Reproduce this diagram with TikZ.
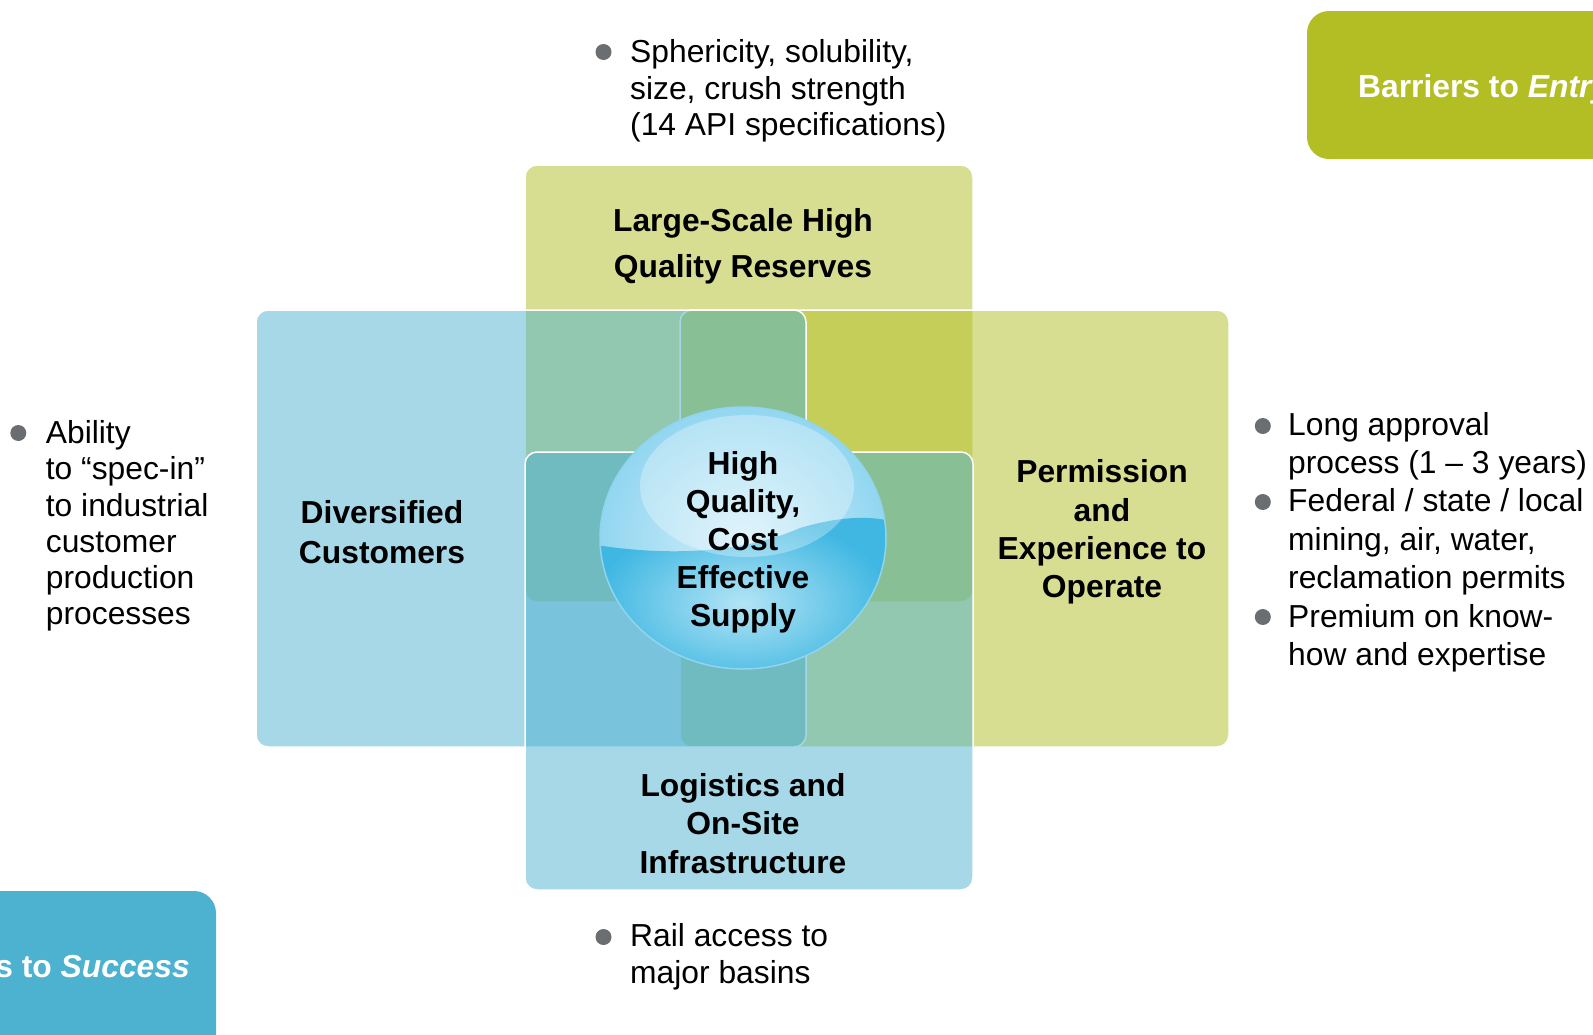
\documentclass[tikz,border=0pt]{standalone}
\usepackage{fontspec}
\setmainfont{Liberation Sans}
\usepackage{tikz}
\definecolor{barrgreen}{HTML}{B2BE23}
\definecolor{succblue}{HTML}{4DB1D0}
\definecolor{dotgrey}{HTML}{6B6E71}
\definecolor{balltop}{HTML}{D3EFFA}
\definecolor{balledge}{HTML}{8FD5F0}
\definecolor{waterlight}{HTML}{B3E4F5}
\definecolor{waterdeep}{HTML}{3FB7E2}
\tikzstyle{panel}=[draw=white, line width=1.5pt, rounded corners=12pt, fill opacity=0.5]
\tikzstyle{cornertab}=[rounded corners=22pt]
\tikzstyle{boxtitle}=[align=center, inner sep=0pt]
\tikzstyle{tabtext}=[text=white, inner sep=0pt, font=\bfseries\fontsize{31.8}{38}\selectfont]
\tikzstyle{bullettext}=[align=left, anchor=west, inner sep=0pt, font=\fontsize{31.8}{36.6}\selectfont]
\tikzstyle{bulletdot}=[circle, fill=dotgrey, inner sep=0pt, minimum size=16pt]

\begin{document}
\begin{tikzpicture}[x=1pt, y=-1pt]
                    \useasboundingbox (0,0) rectangle (1593,1034);
                    \clip (0,0) rectangle (1593,1034);
                    % corner tabs
                    \fill[cornertab, barrgreen] (1307,11) rectangle (1660,159);
                    \fill[cornertab, succblue] (-80,891) rectangle (216,1100);
                    \node[tabtext, anchor=west] (entry) at (1358,89) {Barriers to \textit{Entry}};
                    \node[tabtext, anchor=east] (success) at (190,970) {Keys to \textit{Success}};
                    % the four panels
                    \path[panel, fill=barrgreen] (525,165) rectangle (973,602);
                    \path[panel, fill=barrgreen] (680,310) rectangle (1229,747);
                    \path[panel, fill=succblue] (256,310) rectangle (806,747);
                    \path[panel, fill=succblue] (525,452) rectangle (973,890);
                    % the ball
                    \begin{scope}
                        \clip (743,538) ellipse (143pt and 131pt);
                        \shade[inner color=balltop, outer color=balledge] (743,538) ellipse (150pt and 138pt);
                        \shade[inner color=waterlight, outer color=waterdeep] (596,545) .. controls (680,558) and (750,550) .. (800,528) .. controls (840,516) and (870,516) .. (890,521) -- (890,690) -- (596,690) -- cycle;
                        \fill[white, opacity=0.3] (747,486) ellipse (107pt and 71pt);
                    \end{scope}
                    \draw[balledge, line width=1.5pt] (743,538) ellipse (143pt and 131pt);
                    % titles
                    \node[boxtitle, font=\bfseries\fontsize{31.8}{45.7}\selectfont] (reserves) at (743,246) {Large-Scale High\\Quality Reserves};
                    \node[boxtitle, font=\bfseries\fontsize{31.8}{39.6}\selectfont] (customers) at (382,532) {Diversified\\Customers};
                    \node[boxtitle, font=\bfseries\fontsize{31.8}{38.3}\selectfont] (permission) at (1102,532) {Permission\\and\\Experience to\\Operate};
                    \node[boxtitle, font=\bfseries\fontsize{31.8}{38.6}\selectfont] (logistics) at (743,823.5) {Logistics and\\On-Site\\Infrastructure};
                    \node[boxtitle, font=\bfseries\fontsize{31.8}{38.1}\selectfont] (supply) at (743,542) {High\\Quality,\\Cost\\Effective\\Supply};
                    % bullet points
                    \node[bulletdot] (d1) at (603.5,52) {};
                    \node[bullettext] (specs) at (630,91) {Sphericity, solubility,\\size, crush strength\\(14 API specifications)};
                    \node[bulletdot] (d2) at (18.3,433) {};
                    \node[bullettext, font=\fontsize{31.8}{36.2}\selectfont] (specin) at (45.7,526) {Ability\\to “spec-in”\\to industrial\\customer\\production\\processes};
                    \node[bulletdot] (d3) at (1262.8,426) {};
                    \node[bullettext, font=\fontsize{31.8}{38.3}\selectfont] (approval) at (1288,446.5) {Long approval\\process (1 – 3 years)};
                    \node[bulletdot] (d4) at (1262.8,502) {};
                    \node[bullettext, font=\fontsize{31.8}{38.3}\selectfont] (permits) at (1288,542) {Federal / state / local\\mining, air, water,\\reclamation permits};
                    \node[bulletdot] (d5) at (1262.8,617) {};
                    \node[bullettext, font=\fontsize{31.8}{38.3}\selectfont] (knowhow) at (1288,638) {Premium on know-\\how and expertise};
                    \node[bulletdot] (d6) at (603.5,937) {};
                    \node[bullettext] (rail) at (630,957) {Rail access to\\major basins};
                \end{tikzpicture}
\end{document}
